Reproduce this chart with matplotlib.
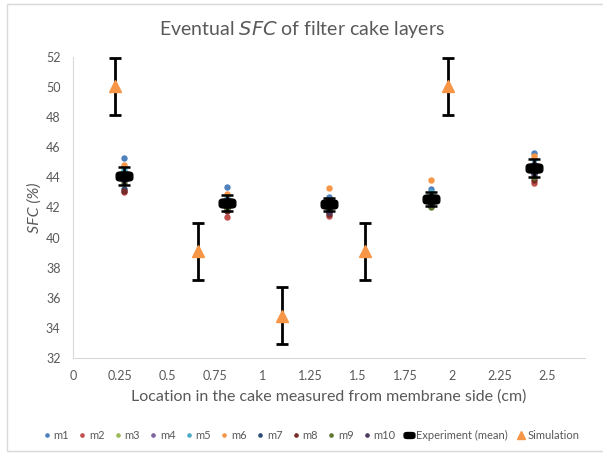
import numpy as np
import matplotlib
matplotlib.use("Agg")
import matplotlib.pyplot as plt
from matplotlib.path import Path
from matplotlib.patches import Rectangle

plt.rcParams['font.family'] = ['Lato', 'DejaVu Sans']

# experiment locations (cm) and individual measurements m1..m10
x_exp = [0.27, 0.81, 1.35, 1.89, 2.43]
m1 = [45.3, 43.35, 42.7, 43.2, 45.6]
m2 = [43.0, 41.4, 41.45, 42.2, 43.6]
m3 = [44.3, 42.3, 42.1, 42.5, 44.5]
m4 = [43.9, 42.0, 41.8, 42.4, 44.9]
m5 = [44.5, 42.6, 42.5, 43.0, 45.2]
m6 = [44.8, 42.9, 43.3, 43.8, 45.4]
m7 = [43.2, 42.1, 41.9, 42.3, 44.2]
m8 = [43.1, 41.8, 41.6, 42.1, 43.8]
m9 = [43.6, 41.9, 42.0, 42.05, 44.0]
m10 = [43.8, 42.2, 41.7, 42.2, 44.3]
exp_mean = [44.1, 42.3, 42.2, 42.55, 44.65]
exp_err = [0.6, 0.5, 0.45, 0.45, 0.6]

# simulation
x_sim = [0.22, 0.66, 1.10, 1.54, 1.98]
sim = [50.05, 39.1, 34.8, 39.1, 50.05]
sim_err = [1.9, 1.9, 1.9, 1.9, 1.9]

series = [m1, m2, m3, m4, m5, m6, m7, m8, m9, m10]
names = ['m%d' % (i + 1) for i in range(10)]
colors = ['#4F81BD', '#C0504D', '#9BBB59', '#8064A2', '#4BACC6',
          '#F79646', '#2C4D75', '#772C2A', '#5F7530', '#4D3B62']

gray = '#595959'

fig = plt.figure(figsize=(6.03, 4.53), dpi=100)
ax = fig.add_axes([73 / 603, 1 - 358 / 453, 512 / 603, 301 / 453])

for s, n, c in zip(series, names, colors):
    ax.plot(x_exp, s, 'o', ms=3.6, color=c, label=n, zorder=3)

# rounded rectangle marker for the mean
t = np.linspace(0, 2 * np.pi, 60)
c_, s_ = np.cos(t), np.sin(t)
px = np.sign(c_) * np.abs(c_) ** 0.5
py = 0.55 * np.sign(s_) * np.abs(s_) ** 0.5
pill = Path(np.column_stack([px, py]))
ax.errorbar(x_exp, exp_mean, yerr=exp_err, fmt='none', ecolor='black',
            elinewidth=1.8, capsize=4, capthick=1.8, zorder=4)
ax.plot(x_exp, exp_mean, linestyle='none', marker=pill, ms=12, color='black',
        label='Experiment (mean)', zorder=5)

ax.errorbar(x_sim, sim, yerr=sim_err, fmt='none', ecolor='black',
            elinewidth=2, capsize=4, capthick=2, zorder=4)
ax.plot(x_sim, sim, '^', ms=8.5, color='#F79646', label='Simulation', zorder=5)

ax.set_xlim(0, 2.7)
ax.set_ylim(32, 52)
ax.set_xticks([0, 0.25, 0.5, 0.75, 1, 1.25, 1.5, 1.75, 2, 2.25, 2.5])
ax.set_xticklabels(['0', '0.25', '0.5', '0.75', '1', '1.25', '1.5', '1.75', '2', '2.25', '2.5'])
ax.set_yticks(range(32, 53, 2))
ax.tick_params(colors=gray, labelsize=9, length=0, pad=9)
for side in ['top', 'right']:
    ax.spines[side].set_visible(False)
for side in ['left', 'bottom']:
    ax.spines[side].set_color('#D9D9D9')

ax.set_xlabel('Location in the cake measured from membrane side (cm)',
              fontsize=11.5, color=gray, labelpad=5)
ax.set_ylabel('SFC (%)', fontsize=11.5, color=gray, labelpad=3,
              fontstyle='italic')
fig.text(0.5, 1 - 30 / 453, 'Eventual $\\it{SFC}$ of filter cake layers',
         ha='center', va='center', fontsize=14, color=gray)

fig.legend(loc='center', bbox_to_anchor=(0.515, 1 - 435 / 453), ncol=12,
           frameon=False, fontsize=8, handletextpad=0.15, columnspacing=0.75,
           handlelength=0.9, labelcolor=gray, markerscale=0.65)

fig.patches.append(Rectangle((7 / 603, 1 - 451 / 453), 1, 447 / 453,
                             transform=fig.transFigure, fill=False,
                             edgecolor='#D9D9D9', lw=1))

fig.savefig('out.png', dpi=100)
